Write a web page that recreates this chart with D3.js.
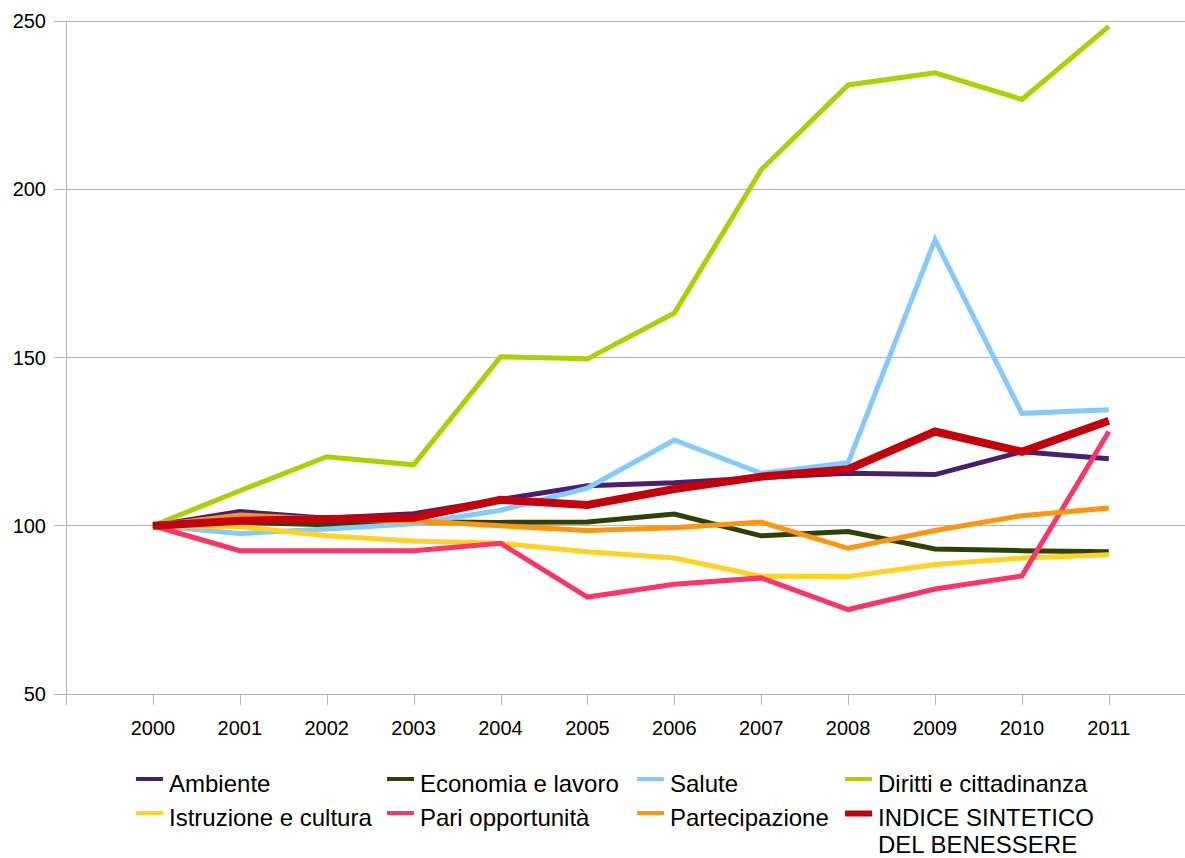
<!DOCTYPE html>
<html>
<head>
<meta charset="utf-8">
<script src="https://cdn.jsdelivr.net/npm/d3@7"></script>
<style>
  html, body { margin: 0; padding: 0; background: #fff; }
  svg { display: block; font-family: "Liberation Sans", Arial, sans-serif; }
</style>
</head>
<body>
<svg id="chart" width="1185" height="858"></svg>
<script>
// Years on the category axis
const years = [2000, 2001, 2002, 2003, 2004, 2005, 2006, 2007, 2008, 2009, 2010, 2011];

// Index values (2000 = 100) for each dimension
const ambiente       = [100, 104.2, 102.2, 103.6, 107.8, 111.9, 112.8, 114.3, 115.6, 115.2, 122.0, 119.9];
const economia       = [100, 101.0, 100.3, 101.2, 101.0, 101.1, 103.5, 97.0, 98.3, 93.1, 92.6, 92.3];
const salute         = [100, 97.7, 99.0, 100.6, 104.6, 111.2, 125.5, 115.6, 118.7, 185.0, 133.4, 134.5];
const diritti        = [100, 110.4, 120.5, 118.1, 150.2, 149.6, 163.2, 205.8, 231.0, 234.6, 226.7, 248.4];
const istruzione     = [100, 99.8, 97.0, 95.5, 94.8, 92.3, 90.4, 85.0, 84.9, 88.5, 90.4, 91.4];
const pari           = [100, 92.6, 92.6, 92.6, 94.8, 78.8, 82.6, 84.5, 75.1, 81.2, 85.1, 128.0];
const partecipazione = [100, 103.2, 102.0, 101.5, 100.0, 98.6, 99.4, 101.1, 93.3, 98.6, 103.0, 105.3];
const indice         = [100, 101.5, 102.0, 102.4, 107.7, 106.2, 110.9, 114.6, 116.8, 128.0, 122.0, 131.2];

// Y axis tick labels
const yTicks = [50, 100, 150, 200, 250];

const series = [
  { name: "Ambiente", values: ambiente, color: "#4b1f6f", width: 5 },
  { name: "Economia e lavoro", values: economia, color: "#314004", width: 5 },
  { name: "Salute", values: salute, color: "#83caff", width: 5 },
  { name: "Diritti e cittadinanza", values: diritti, color: "#aecf00", width: 5 },
  { name: "Istruzione e cultura", values: istruzione, color: "#ffd320", width: 5 },
  { name: "Pari opportunità", values: pari, color: "#ff3366", width: 5 },
  { name: "Partecipazione", values: partecipazione, color: "#ff950e", width: 5 },
  { name: ["INDICE SINTETICO", "DEL BENESSERE"], values: indice, color: "#c5000b", width: 8 }
];

const svg = d3.select("#chart");
const plotLeft = 66, plotBottom = 694, plotTop = 21;

// One extra slot on each side of the years
const x = d3.scaleLinear().domain([1999, 2012]).range([plotLeft, plotLeft + 13 * 86.9]);
const y = d3.scaleLinear().domain([50, 250]).range([plotBottom, plotTop]);

const grid = "#b3b3b3";

// Horizontal gridlines with short outer ticks
const yAxis = svg.append("g");
yAxis.selectAll("line").data(yTicks).join("line")
  .attr("x1", plotLeft - 12).attr("x2", 1185)
  .attr("y1", d => y(d)).attr("y2", d => y(d))
  .attr("stroke", grid).attr("stroke-width", 1).attr("shape-rendering", "crispEdges");
yAxis.selectAll("text").data(yTicks).join("text")
  .attr("x", 46).attr("y", d => y(d)).attr("dy", "0.35em")
  .attr("text-anchor", "end").attr("font-size", 20).attr("fill", "#000")
  .text(d => d);

// Vertical axis line
svg.append("line")
  .attr("x1", plotLeft).attr("x2", plotLeft).attr("y1", plotTop).attr("y2", plotBottom + 11)
  .attr("stroke", grid).attr("stroke-width", 1).attr("shape-rendering", "crispEdges");

// X tick marks at each year and at the axis start
const xTickPos = [1999].concat(years);
svg.append("g").selectAll("line").data(xTickPos).join("line")
  .attr("x1", d => Math.round(x(d)) + 0.5).attr("x2", d => Math.round(x(d)) + 0.5)
  .attr("y1", plotBottom).attr("y2", plotBottom + 11)
  .attr("stroke", grid).attr("stroke-width", 1);

svg.append("g").selectAll("text").data(years).join("text")
  .attr("x", d => x(d)).attr("y", 728).attr("dy", "0.35em")
  .attr("text-anchor", "middle").attr("font-size", 20).attr("fill", "#000")
  .text(d => d);

// Series lines
const line = d3.line().x((d, i) => x(years[i])).y(d => y(d));
svg.append("g").selectAll("path").data(series).join("path")
  .attr("d", d => line(d.values))
  .attr("fill", "none")
  .attr("stroke", d => d.color)
  .attr("stroke-width", d => d.width)
  .attr("stroke-linejoin", "miter")
  .attr("stroke-linecap", "butt");

// Legend: 4 columns, 2 rows
const colX = [136, 387, 637, 845];
const rowY = [780, 814];
const lg = svg.append("g").selectAll("g").data(series).join("g")
  .attr("transform", (d, i) => `translate(${colX[i % 4]},${rowY[Math.floor(i / 4)]})`);
lg.append("rect")
  .attr("x", 0).attr("y", d => -d.width / 2 - 0.5 + (d.width > 5 ? 1 : 0))
  .attr("width", 27).attr("height", d => d.width > 5 ? 6 : 4)
  .attr("fill", d => d.color);
lg.append("text")
  .attr("x", 33).attr("y", 12)
  .attr("font-size", 24).attr("fill", "#000")
  .each(function (d) {
    const lines = Array.isArray(d.name) ? d.name : [d.name];
    d3.select(this).selectAll("tspan").data(lines).join("tspan")
      .attr("x", 33).attr("dy", (t, i) => i === 0 ? 0 : 27)
      .text(t => t);
  });
</script>
</body>
</html>
